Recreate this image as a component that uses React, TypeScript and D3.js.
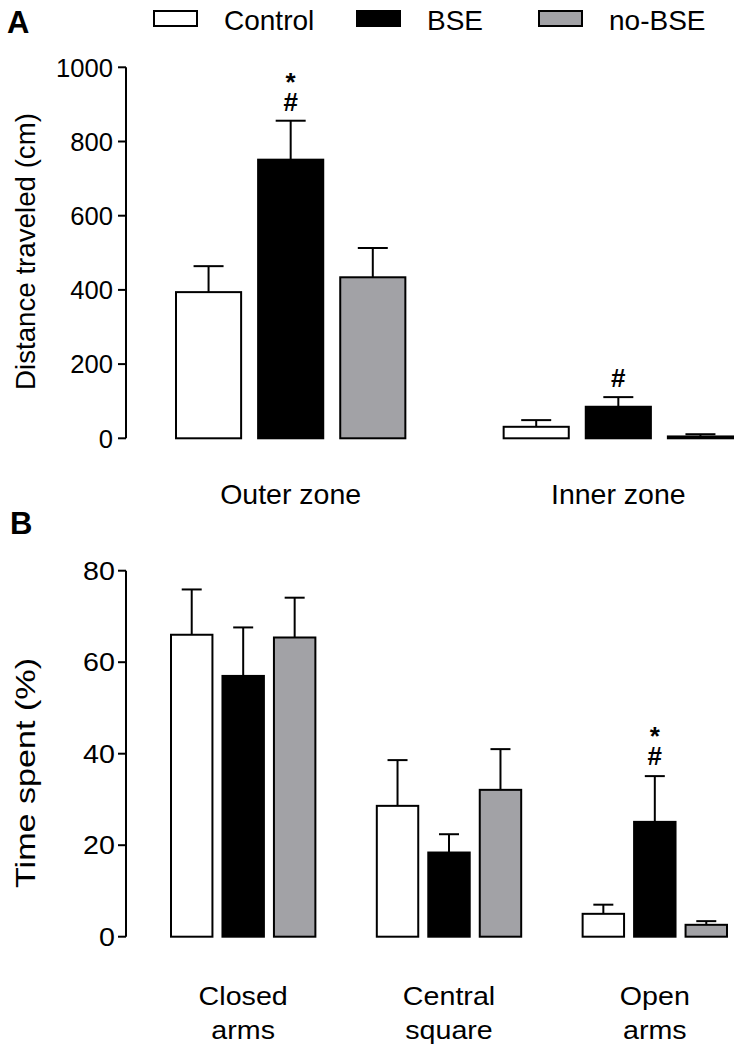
import React from "react";
import * as d3 from "d3";

// ---------- data ----------
const seriesNames = ["Control", "BSE", "no-BSE"];

// Panel A: distance traveled (cm)
const zoneGroups = ["Outer zone", "Inner zone"];
const distControl = [394, 31];
const distControlSem = [70, 18];
const distBSE = [751, 85];
const distBSESem = [105, 26];
const distNoBSE = [434, 5];
const distNoBSESem = [79, 6];
const distTicks = [0, 200, 400, 600, 800, 1000];

// Panel B: time spent (%)
const armGroups = ["Closed arms", "Central square", "Open arms"];
const timeControl = [66, 28.6, 5.0];
const timeControlSem = [9.9, 10.0, 2.0];
const timeBSE = [57, 18.4, 25.1];
const timeBSESem = [10.6, 4.0, 10.0];
const timeNoBSE = [65.4, 32.1, 2.6];
const timeNoBSESem = [8.7, 8.9, 0.8];
const timeTicks = [0, 20, 40, 60, 80];

// significance marks: panel, group index, series index, marks (stacked top -> bottom)
const sigPanel = ["A", "A", "B"];
const sigGroup = [0, 1, 2];
const sigSeries = [1, 1, 1];
const sigMarks = ["*#", "#", "*#"];

// ---------- styles ----------
const fills = ["#ffffff", "#000000", "#a2a2a6"];
const FONT = "'Liberation Sans', Arial, Helvetica, sans-serif";
const legendX = [154, 357, 539];

type Panel = {
  key: string;
  groups: string[];
  values: number[][];
  sems: number[][];
  ticks: number[];
  y: d3.ScaleLinear<number, number>;
  x0: d3.ScaleBand<string>;
  x1: d3.ScaleBand<string>;
  capW: number;
  sx: number;
  markGap: number;
};

function buildPanels(): Panel[] {
  const yA = d3.scaleLinear().domain([0, 1000]).range([438.3, 67.3]);
  const xA0 = d3.scaleBand<string>().domain(zoneGroups).range([176, 733]).paddingInner(0.3).paddingOuter(0);
  const xA1 = d3.scaleBand<string>().domain(seriesNames).range([0, xA0.bandwidth()]).paddingInner(0.207).paddingOuter(0);
  const yB = d3.scaleLinear().domain([0, 80]).range([936.7, 570.7]);
  const xB0 = d3.scaleBand<string>().domain(armGroups).range([171, 727]).paddingInner(0.2985).paddingOuter(0);
  const xB1 = d3.scaleBand<string>().domain(seriesNames).range([0, xB0.bandwidth()]).paddingInner(0.195).paddingOuter(0);
  return [
    {
      key: "A",
      groups: zoneGroups,
      values: [distControl, distBSE, distNoBSE],
      sems: [distControlSem, distBSESem, distNoBSESem],
      ticks: distTicks,
      y: yA,
      x0: xA0,
      x1: xA1,
      capW: 30,
      sx: 1,
      markGap: 14,
    },
    {
      key: "B",
      groups: armGroups,
      values: [timeControl, timeBSE, timeNoBSE],
      sems: [timeControlSem, timeBSESem, timeNoBSESem],
      ticks: timeTicks,
      y: yB,
      x0: xB0,
      x1: xB1,
      capW: 20,
      sx: 1.12,
      markGap: 15,
    },
  ];
}

export default function App() {
  const panels = buildPanels();
  const axisX = 126;

  return (
    <div style={{ position: "absolute", left: 0, top: 0 }}>
      <svg width={742} height={1048} style={{ display: "block", background: "#fff" }} fontFamily={FONT}>
        {/* panel letters */}
        <text x={7} y={33} fontSize={31} fontWeight="bold">A</text>
        <text x={10} y={534} fontSize={31} fontWeight="bold">B</text>

        {/* legend */}
        {seriesNames.map((s, i) => (
          <g key={s}>
            <rect x={legendX[i]} y={11} width={43} height={15} fill={fills[i]} stroke="#000" strokeWidth={2} />
            <text x={legendX[i] + 70} y={30} fontSize={28}>{s}</text>
          </g>
        ))}

        {panels.map((p) => {
          const [y0, yTop] = p.y.range();
          return (
            <g key={p.key}>
              {/* y axis */}
              <line x1={axisX} x2={axisX} y1={y0} y2={yTop} stroke="#000" strokeWidth={2} />
              {p.ticks.map((t) => (
                <g key={t}>
                  <line x1={axisX - 8} x2={axisX} y1={p.y(t)} y2={p.y(t)} stroke="#000" strokeWidth={2} />
                  <text
                    transform={`translate(${p.key === "A" ? 113 : 115},${p.y(t)}) scale(${p.sx},1)`}
                    dy="0.36em"
                    textAnchor="end"
                    fontSize={25.6}
                  >
                    {t}
                  </text>
                </g>
              ))}
              {/* y title */}
              {p.key === "A" ? (
                <text transform="translate(35,251.5) rotate(-90)" textAnchor="middle" fontSize={28} textLength={277} lengthAdjust="spacingAndGlyphs">
                  Distance traveled (cm)
                </text>
              ) : (
                <text transform="translate(35,773) rotate(-90)" textAnchor="middle" fontSize={28} textLength={230} lengthAdjust="spacingAndGlyphs">
                  Time spent (%)
                </text>
              )}

              {/* bars */}
              {p.groups.map((g, gi) => (
                <g key={g}>
                  {seriesNames.map((s, si) => {
                    const v = p.values[si][gi];
                    const e = p.sems[si][gi];
                    const bx = (p.x0(g) as number) + (p.x1(s) as number);
                    const bw = p.x1.bandwidth();
                    const cx = bx + bw / 2;
                    return (
                      <g key={s}>
                        <line x1={cx} x2={cx} y1={p.y(v)} y2={p.y(v + e)} stroke="#000" strokeWidth={2} />
                        <line x1={cx - p.capW / 2} x2={cx + p.capW / 2} y1={p.y(v + e)} y2={p.y(v + e)} stroke="#000" strokeWidth={2} />
                        <rect x={bx} y={p.y(v)} width={bw} height={y0 - p.y(v)} fill={fills[si]} stroke="#000" strokeWidth={2} />
                      </g>
                    );
                  })}
                  {/* category labels */}
                  {p.key === "A" ? (
                    <text x={(p.x0(g) as number) + p.x0.bandwidth() / 2} y={504} textAnchor="middle" fontSize={28.5}>
                      {g}
                    </text>
                  ) : (
                    g.split(" ").map((w, li) => (
                      <text
                        key={w}
                        transform={`translate(${(p.x0(g) as number) + p.x0.bandwidth() / 2},${1005 + li * 34}) scale(${p.sx},1)`}
                        textAnchor="middle"
                        fontSize={25.6}
                      >
                        {w}
                      </text>
                    ))
                  )}
                </g>
              ))}

              {/* significance marks: one vertical text per bar, stacked upright */}
              {sigPanel.map((sp, k) => {
                if (sp !== p.key) return null;
                const g = p.groups[sigGroup[k]];
                const s = seriesNames[sigSeries[k]];
                const v = p.values[sigSeries[k]][sigGroup[k]];
                const e = p.sems[sigSeries[k]][sigGroup[k]];
                const cx = (p.x0(g) as number) + (p.x1(s) as number) + p.x1.bandwidth() / 2;
                const top = p.y(v + e);
                const txt = sigMarks[k];
                return (
                  <text
                    key={k}
                    x={cx}
                    y={top - p.markGap}
                    textAnchor="end"
                    fontSize={26}
                    fontWeight="bold"
                    letterSpacing={-10}
                    style={{ writingMode: "vertical-rl", textOrientation: "upright" } as React.CSSProperties}
                  >
                    {txt}
                  </text>
                );
              })}
            </g>
          );
        })}
      </svg>
    </div>
  );
}
